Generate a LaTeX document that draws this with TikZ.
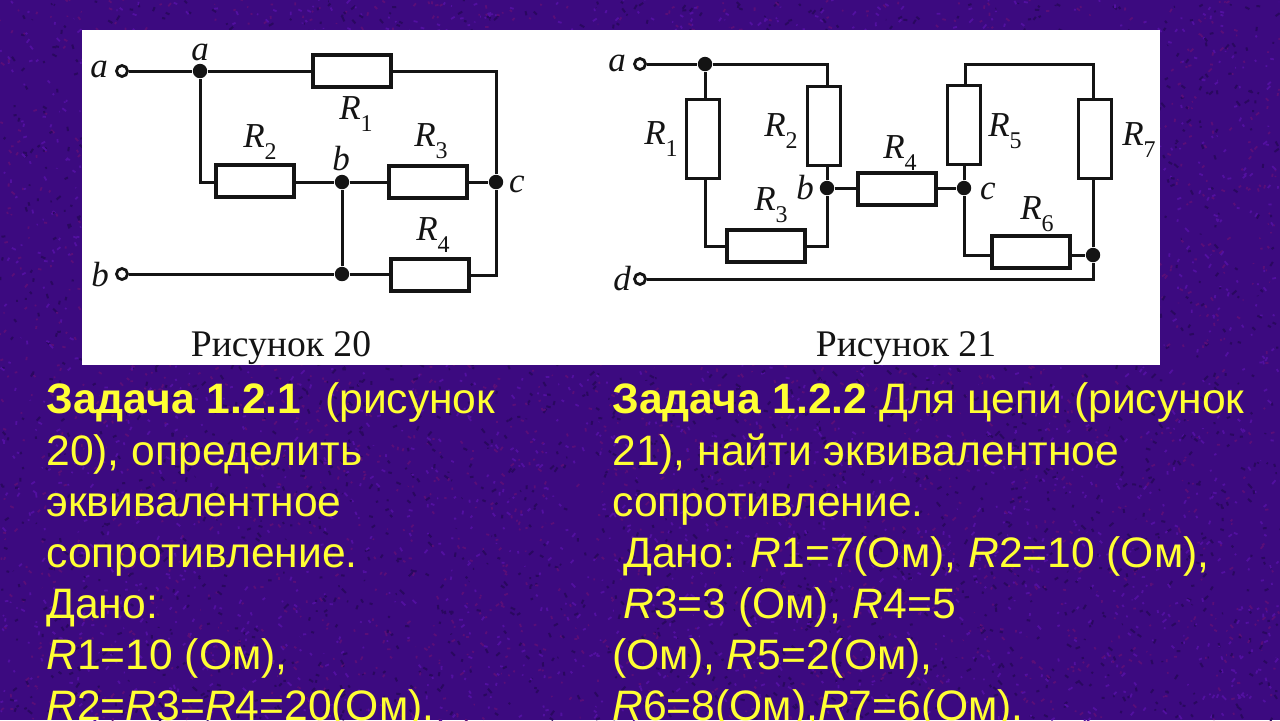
\documentclass[tikz,border=0pt]{standalone}
\usepackage{fontspec}
\setmainfont{Liberation Sans}
\newfontfamily\serifface{Liberation Serif}
\usetikzlibrary{calc}
\definecolor{bgpurple}{HTML}{3C0A80}
\definecolor{bgdark}{HTML}{2A0860}
\definecolor{bglight}{HTML}{5210A0}
\definecolor{bgred}{HTML}{5A0E78}
\definecolor{txtyellow}{HTML}{FFFF33}
\definecolor{ink}{HTML}{141414}
\newcommand\Rl[1]{{\itshape R}\raisebox{-0.36em}{\fontsize{12}{12}\selectfont #1}}
\tikzset{
  x=0.5pt,y=-0.5pt,
  res/.style={draw=ink,line width=1.9pt,fill=white,inner sep=0pt,outer sep=0pt,minimum width=39pt,minimum height=16pt},
  resv/.style={draw=ink,line width=1.9pt,fill=white,inner sep=0pt,outer sep=0pt,minimum width=16.5pt,minimum height=39.5pt},
  wire/.style={draw=ink,line width=1.5pt},
  dot/.style={circle,fill=ink,inner sep=0pt,minimum size=7.2pt},
  term/.style={circle,draw=ink,fill=white,line width=1.4pt,inner sep=0pt,minimum size=5.5pt},
  lab/.style={font=\serifface\fontsize{17.5}{17.5}\selectfont\itshape,text=ink,inner sep=0pt},
  rlab/.style={font=\serifface\fontsize{17.5}{17.5}\selectfont,text=ink,inner sep=0pt},
  figcap/.style={font=\serifface\fontsize{18.8}{18.8}\selectfont,text=ink,inner sep=0pt},
  task/.style={anchor=base west,text=txtyellow,inner sep=0pt,font=\fontsize{21.3}{21.3}\selectfont},
}
\begin{document}
\begin{tikzpicture}
\useasboundingbox (0,0) rectangle (1280,720);
\begin{scope}
\clip (0,0) rectangle (1280,720);
\fill[bgpurple] (0,0) rectangle (1280,720);
\pgfmathsetseed{7}
\foreach \i in {1,...,2600}{
  \pgfmathsetmacro\xa{rnd*1280}\pgfmathsetmacro\ya{rnd*720}
  \pgfmathsetmacro\dx{(rnd-.5)*9}\pgfmathsetmacro\dy{(rnd-.5)*9}
  \draw[bgdark,line width=1pt] (\xa,\ya) -- ++(\dx,\dy);
  \pgfmathsetmacro\xb{rnd*1280}\pgfmathsetmacro\yb{rnd*720}
  \pgfmathsetmacro\ex{(rnd-.5)*8}\pgfmathsetmacro\ey{(rnd-.5)*8}
  \draw[bglight,line width=0.9pt] (\xb,\yb) -- ++(\ex,\ey);
  \pgfmathsetmacro\xc{rnd*1280}\pgfmathsetmacro\yc{rnd*720}
  \pgfmathsetmacro\fx{(rnd-.5)*7}\pgfmathsetmacro\fy{(rnd-.5)*7}
  \draw[bgred,line width=0.9pt] (\xc,\yc) -- ++(\fx,\fy);
}
\fill[white] (82,30) rectangle (1160,365);

% Figure 20
\coordinate (cTop) at (496,71);
\coordinate (cBot) at (496,275);
\coordinate (aBend) at (200,182);
\node[term] (A1) at (122,71) {};
\node[term] (B1) at (122,274) {};
\node[dot] (ja) at (200,71) {};
\node[dot] (jb) at (342,182) {};
\node[dot] (jc) at (496,182) {};
\node[dot] (jd) at (342,274) {};
\node[res] (r1) at (352,71) {};
\node[res] (r2) at (255,181) {};
\node[res] (r3) at (428,182) {};
\node[res] (r4) at (430,275) {};
\draw[wire] (A1) -- (ja) -- (r1) (r1) -- (cTop) -- (jc) -- (cBot) -- (r4);
\draw[wire] (ja) -- (aBend) -- (r2.west|-aBend);
\draw[wire] (r2.east|-jb) -- (jb) -- (r3) (r3) -- (jc);
\draw[wire] (jb) -- (jd) (B1) -- (jd) -- (r4.west|-jd);
\node[lab] (la1) at (99,69) {a};
\node[lab] (lb1) at (100,275) {b};
\node[lab] (la2) at (200,52) {a};
\node[lab] (lb2) at (341,159) {b};
\node[lab] (lc1) at (517,184) {c};
\node[rlab] (tr1) at (356,114) {\Rl{1}};
\node[rlab] (tr2) at (260,142) {\Rl{2}};
\node[rlab] (tr3) at (431,141) {\Rl{3}};
\node[rlab] (tr4) at (433,235) {\Rl{4}};
\node[figcap] (c20) at (281,348) {Рисунок 20};

% Figure 21
\coordinate (m2) at (827,64);
\coordinate (m3) at (705,246);
\coordinate (m4) at (827,246);
\coordinate (m5) at (965,64);
\coordinate (m6) at (1093,64);
\coordinate (m7) at (965,255);
\coordinate (m8) at (1093,279);
\node[term] (A2) at (640,64) {};
\node[term] (D2) at (640,279) {};
\node[dot] (ka) at (705,64) {};
\node[dot] (kb) at (827,188) {};
\node[dot] (kc) at (964,188) {};
\node[dot] (kd) at (1093,255) {};
\node[resv] (s1) at (703,139) {};
\node[resv] (s2) at (824,126) {};
\node[res] (s3) at (766,246) {};
\node[res] (s4) at (897,189) {};
\node[resv] (s5) at (964,125) {};
\node[res] (s6) at (1031,252) {};
\node[resv] (s7) at (1095,139) {};
\draw[wire] (A2) -- (ka) -- (m2) -- (s2.north-|m2) (s2.south-|m2) -- (kb) -- (m4) -- (s3.east|-m4);
\draw[wire] (ka) -- (s1.north-|ka) (s1.south-|ka) -- (m3) -- (s3.west|-m3);
\draw[wire] (kb) -- (s4.west|-kb) (s4.east|-kc) -- (kc) -- (s5.south-|kc);
\draw[wire] (s5.north-|m5) -- (m5) -- (m6) -- (s7.north-|m6) (s7.south-|m6) -- (kd) -- (m8) -- (D2);
\draw[wire] (kc) -- (m7-|kc) -- (s6.west|-m7) (s6.east|-kd) -- (kd);
\node[lab] (la3) at (617,63) {a};
\node[lab] (ld3) at (622,279) {d};
\node[lab] (lb3) at (805,188) {b};
\node[lab] (lc3) at (988,191) {c};
\node[rlab] (ts1) at (661,139) {\Rl{1}};
\node[rlab] (ts2) at (781,131) {\Rl{2}};
\node[rlab] (ts3) at (771,205) {\Rl{3}};
\node[rlab] (ts4) at (900,153) {\Rl{4}};
\node[rlab] (ts5) at (1005,131) {\Rl{5}};
\node[rlab] (ts6) at (1037,214) {\Rl{6}};
\node[rlab] (ts7) at (1139,140) {\Rl{7}};
\node[figcap] (c21) at (906,348) {Рисунок 21};

% Task text
\node[task] (t1a) at (46,413) {\textbf{Задача 1.2.1}\ \ (рисунок};
\node[task] (t1b) at (46,465) {20), определить};
\node[task] (t1c) at (46,516) {эквивалентное};
\node[task] (t1d) at (46,567) {сопротивление.};
\node[task] (t1e) at (46,618) {Дано:};
\node[task] (t1f) at (46,669) {\textit{R}1=10 (Ом),};
\node[task] (t1g) at (46,720) {\textit{R}2=\textit{R}3=\textit{R}4=20(Ом).};
\node[task] (t2a) at (612,413) {\textbf{Задача 1.2.2} Для цепи (рисунок};
\node[task] (t2b) at (612,465) {21), найти эквивалентное};
\node[task] (t2c) at (612,516) {сопротивление.};
\node[task] (t2d) at (623,567) {Дано: \textit{R}1=7(Ом), \textit{R}2=10 (Ом),};
\node[task] (t2e) at (623,618) {\textit{R}3=3 (Ом), \textit{R}4=5};
\node[task] (t2f) at (612,669) {(Ом), \textit{R}5=2(Ом),};
\node[task] (t2g) at (612,720) {\textit{R}6=8(Ом),\textit{R}7=6(Ом).};
\end{scope}
\end{tikzpicture}
\end{document}
